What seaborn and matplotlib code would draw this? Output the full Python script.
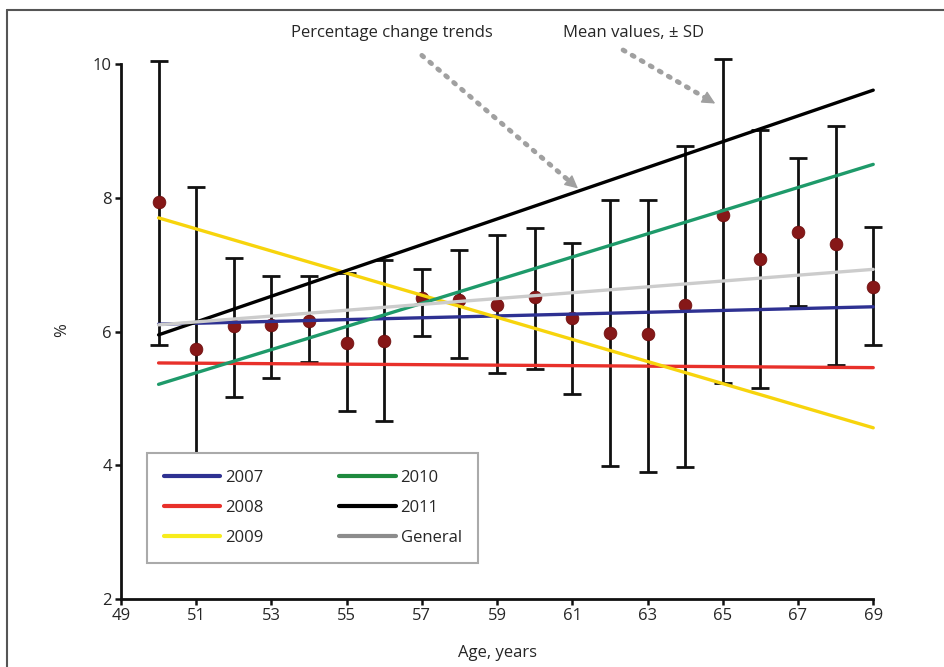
import numpy as np
import pandas as pd
import matplotlib
matplotlib.use("Agg")
import matplotlib.pyplot as plt
from matplotlib.lines import Line2D
import seaborn as sns

# ages and mean values (%) with upper/lower ends of the SD bars
ages = list(range(50, 70))
means = [7.93, 5.74, 6.08, 6.10, 6.16, 5.83, 5.86, 6.50, 6.47, 6.39,
         6.51, 6.20, 5.98, 5.96, 6.39, 7.74, 7.08, 7.49, 7.31, 6.67]
upper = [10.05, 8.16, 7.10, 6.83, 6.83, 6.87, 7.07, 6.93, 7.22, 7.44,
         7.55, 7.32, 7.96, 7.96, 8.77, 10.07, 9.01, 8.59, 9.07, 7.56]
lower = [5.80, 3.32, 5.02, 5.30, 5.55, 4.81, 4.66, 5.93, 5.60, 5.38,
         5.44, 5.06, 3.99, 3.90, 3.97, 5.23, 5.15, 6.38, 5.50, 5.80]

# trend lines: value at age 50 and at age 69
trend_names = ["2007", "2008", "2009", "2010", "2011", "General"]
trend_start = [6.11, 5.53, 7.70, 5.21, 5.95, 6.10]
trend_end = [6.37, 5.46, 4.56, 8.50, 9.61, 6.93]
trend_colors = ["#2e3192", "#e8302a", "#f7d40c", "#1e9a6a", "#000000", "#cccccc"]
legend_colors = ["#2e3192", "#e8302a", "#f7ec1c", "#1e8a3e", "#000000", "#8c8c8c"]

sns.set_style("white")
plt.rcParams['font.family'] = ['Open Sans', 'DejaVu Sans']

fig = plt.figure(figsize=(9.45, 6.67), dpi=100)
ax = fig.add_axes([0.128, 0.102, 0.808, 0.832])

df = pd.DataFrame({"age": ages, "mean": means, "upper": upper, "lower": lower})

# SD bars
ax.errorbar(df["age"], df["mean"],
            yerr=[df["mean"] - df["lower"], df["upper"] - df["mean"]],
            fmt="none", ecolor="#111111", elinewidth=2.0, capsize=6.5,
            capthick=2.0, zorder=2)

# mean points
sns.scatterplot(data=df, x="age", y="mean", color="#861818", s=85,
                edgecolor="#6a0c0c", linewidth=0.5, zorder=3, ax=ax, legend=False)

# trend lines
tr = pd.DataFrame({
    "age": [50, 69] * len(trend_names),
    "val": [v for s, e in zip(trend_start, trend_end) for v in (s, e)],
    "year": [n for n in trend_names for _ in range(2)],
})
sns.lineplot(data=tr, x="age", y="val", hue="year", hue_order=trend_names,
             palette=dict(zip(trend_names, trend_colors)), linewidth=2.4,
             legend=False, ax=ax, zorder=4)

ax.set_xlim(49, 69.3)
ax.set_ylim(2, 10.3)
ax.set_xticks(range(49, 70, 2))
ax.set_yticks([2, 4, 6, 8, 10])
ax.spines["left"].set_bounds(2, 10)
ax.spines["bottom"].set_bounds(49, 69)
for s in ["top", "right"]:
    ax.spines[s].set_visible(False)
for s in ["left", "bottom"]:
    ax.spines[s].set_linewidth(2.0)
    ax.spines[s].set_color("#111111")
ax.tick_params(axis="both", direction="out", length=4.5, width=1.8,
               color="#111111", labelsize=12, pad=2, bottom=True, left=True)

ax.set_xlabel("Age, years", fontsize=12)
ax.set_ylabel("%", fontsize=12)
ax.xaxis.set_label_coords(0.493, -0.083)
ax.yaxis.set_label_coords(-0.066, 0.485)

# legend
handles = [Line2D([0], [0], color=c, lw=3) for c in legend_colors]
leg = ax.legend(handles, trend_names, ncol=2, loc="lower left",
                bbox_to_anchor=(0.034, 0.065, 0.434, 0.198), mode="expand",
                borderaxespad=0, fancybox=False, edgecolor="#aaaaaa", framealpha=1,
                fontsize=12, handlelength=3.4, handletextpad=0.3,
                labelspacing=0.85, borderpad=1.0, columnspacing=2.5)
leg.get_frame().set_linewidth(1.5)

# annotations: dotted shaft + solid head
shaft = dict(arrowstyle="-", color="#a0a0a0", lw=3.5,
             linestyle=(0, (0.45, 1.7)), shrinkA=0, shrinkB=0)
head = dict(arrowstyle="-|>,head_length=0.8,head_width=0.4", color="#a0a0a0",
            lw=1, shrinkA=0, shrinkB=0)
arrows = [((57.0, 10.13), (61.15, 8.14)), ((62.35, 10.21), (64.8, 9.41))]
for (x0, y0), (x1, y1) in arrows:
    slope = (y1 - y0) / (x1 - x0)
    ax.annotate("", xy=(x1 - 0.25, y1 - 0.25 * slope), xytext=(x0, y0),
                arrowprops=shaft, annotation_clip=False)
    ax.annotate("", xy=(x1, y1), xytext=(x1 - 0.3, y1 - 0.3 * slope),
                arrowprops=head, annotation_clip=False)
fig.text(0.415, 0.950, "Percentage change trends", ha="center", va="center", fontsize=12)
fig.text(0.670, 0.950, "Mean values, \u00b1 SD", ha="center", va="center", fontsize=12)

# outer frame
fig.add_artist(Line2D([7 / 945, 7 / 945], [0, 1 - 10 / 667], color="#555555", lw=1.5))
fig.add_artist(Line2D([7 / 945, 1], [1 - 10 / 667, 1 - 10 / 667], color="#555555", lw=1.5))

fig.savefig("out.png", dpi=100)
